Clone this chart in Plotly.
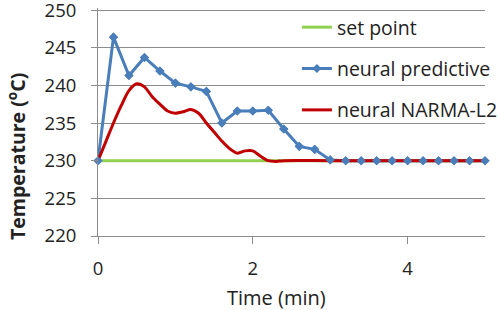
import plotly.graph_objects as go

time_pred = [0, 0.2, 0.4, 0.6, 0.8, 1.0, 1.2, 1.4, 1.6, 1.8, 2.0, 2.2, 2.4, 2.6, 2.8,
             3.0, 3.2, 3.4, 3.6, 3.8, 4.0, 4.2, 4.4, 4.6, 4.8, 5.0]
temp_pred = [230, 246.4, 241.3, 243.7, 241.9, 240.3, 239.8, 239.2, 235.0, 236.6, 236.6, 236.7,
             234.2, 231.9, 231.5, 230.1, 230, 230, 230, 230, 230, 230, 230, 230, 230, 230]

time_narma = [0, 0.1, 0.2, 0.3, 0.4, 0.5, 0.6, 0.7, 0.8, 0.9, 1.0, 1.1, 1.2, 1.3, 1.4, 1.5,
              1.6, 1.7, 1.8, 1.9, 2.0, 2.1, 2.2, 2.3, 2.4, 3.0, 4.0, 5.0]
temp_narma = [230, 232.5, 235.0, 237.3, 239.3, 240.2, 239.8, 238.5, 237.5, 236.6, 236.3, 236.5,
              236.8, 236.3, 235.0, 233.8, 232.6, 231.6, 231.0, 231.3, 231.3, 230.6, 230.0, 229.9,
              230.0, 230, 230, 230]

time_set = [0, 5]
temp_set = [230, 230]

FONT = "Open Sans"
GRID = "#8c8c8c"

fig = go.Figure()
fig.add_trace(go.Scatter(x=time_set, y=temp_set, mode="lines", name="set point",
                         line=dict(color="#92d050", width=3), legendgroup="a"))
fig.add_trace(go.Scatter(x=time_pred, y=temp_pred, mode="lines+markers", name="neural predictive",
                         line=dict(color="#4a7ebb", width=3),
                         marker=dict(symbol="diamond", size=7, color="#4a7ebb"),
                         legendgroup="b", cliponaxis=False))
fig.add_trace(go.Scatter(x=time_narma, y=temp_narma, mode="lines", name="neural NARMA-L2",
                         line=dict(color="#c00000", width=3, shape="spline", smoothing=0.8),
                         legendgroup="c", cliponaxis=False))
fig.add_trace(go.Scatter(x=time_pred, y=temp_pred, mode="markers", showlegend=False,
                         marker=dict(symbol="diamond", size=7, color="#4a7ebb"),
                         cliponaxis=False, hoverinfo="skip"))

fig.update_layout(
    width=500, height=310,
    margin=dict(l=98, r=15, t=8, b=74, autoexpand=False),
    paper_bgcolor="white", plot_bgcolor="white",
    font=dict(family=FONT, size=18, color="#222"),
    legend=dict(x=0.514, y=1.0, xanchor="left", yanchor="top", bgcolor="rgba(0,0,0,0)",
                tracegroupgap=13, font=dict(size=19.5, family=FONT)),
    xaxis=dict(range=[0, 5], tickvals=[0, 2, 4], showgrid=False, zeroline=False,
               showline=True, linecolor=GRID, linewidth=1, ticks="outside", ticklen=7,
               tickcolor=GRID, tickfont=dict(size=18.5), ticklabelstandoff=9, automargin=False,
               ticklabeloverflow="allow"),
    yaxis=dict(range=[220, 250.27], tickvals=[220, 225, 230, 235, 240, 245, 250],
               showgrid=True, gridcolor=GRID, gridwidth=1,
               zeroline=False, showline=True, linecolor=GRID, linewidth=1,
               ticks="outside", ticklen=6, tickcolor=GRID, tickfont=dict(size=18.5),
               ticklabelstandoff=11, automargin=False, ticklabeloverflow="allow"),
    annotations=[
        dict(text="<b>Temperature (<sup>o</sup>C)</b>", textangle=-90, showarrow=False,
             xref="paper", yref="paper", x=(16 - 98) / 387, y=1 - (157 - 8) / 228,
             xanchor="center", yanchor="middle", font=dict(size=19.5, family=FONT, color="#222")),
        dict(text="Time (min)", showarrow=False,
             xref="paper", yref="paper", x=(276 - 98) / 387, y=-(297 - 236) / 228,
             xanchor="center", yanchor="middle", font=dict(size=20, family=FONT, color="#222")),
    ],
)

fig.write_html("out.html", config={"displayModeBar": False},
               post_script="document.body.style.margin='0';document.body.style.overflow='hidden';")
